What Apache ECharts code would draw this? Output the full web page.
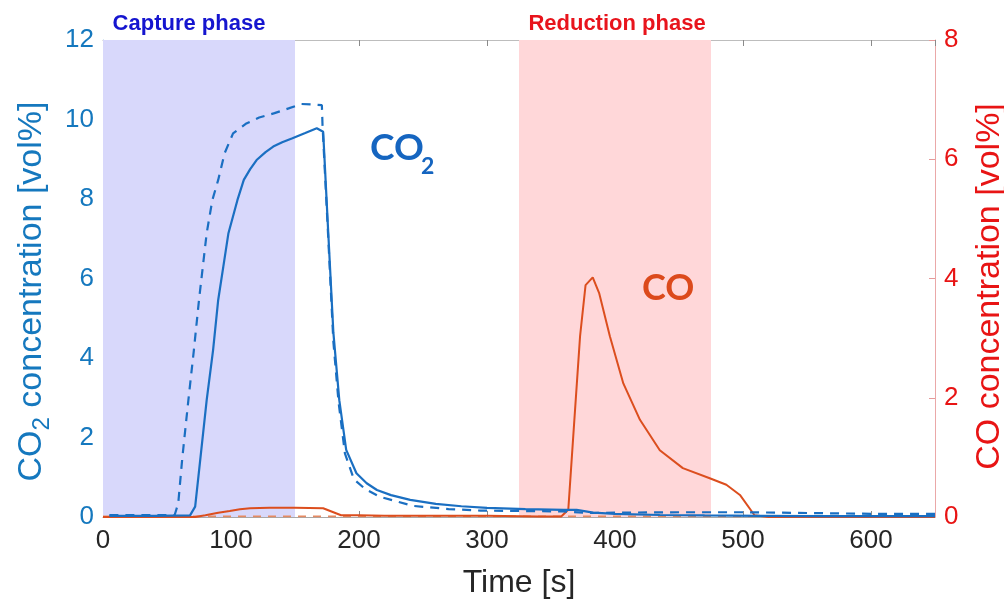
<!DOCTYPE html>
<html>
<head>
<meta charset="utf-8">
<script src="https://cdn.jsdelivr.net/npm/echarts@6/dist/echarts.min.js"></script>
<style>html,body{margin:0;padding:0;background:#fff}#c{width:1004px;height:600px}</style>
</head>
<body>
<div id="c"></div>
<script>
// ---- data (time in s, concentration in vol%) ----
var co2MeasT = [5, 40, 68, 72, 76, 81, 86, 90, 94, 98, 105, 110, 115, 120, 127, 133, 140, 148, 158, 167, 172, 176, 180, 184.6, 190, 198, 206, 214, 225, 240, 260, 280, 300, 330, 360, 370, 383, 400, 435, 470, 513, 560, 600, 650];
var co2MeasV = [0.03, 0.03, 0.04, 0.26, 1.45, 2.94, 4.2, 5.46, 6.3, 7.14, 7.97, 8.48, 8.75, 8.98, 9.18, 9.32, 9.43, 9.53, 9.66, 9.78, 9.69, 7.14, 4.63, 2.94, 1.69, 1.1, 0.85, 0.68, 0.55, 0.43, 0.33, 0.27, 0.23, 0.2, 0.18, 0.18, 0.11, 0.08, 0.05, 0.04, 0.03, 0.02, 0.02, 0.02];

var co2ModelT = [5, 56, 58.8, 62, 66.7, 71, 75, 78, 81, 85.4, 90, 95, 101.6, 112, 122, 134, 145, 155, 163, 171, 171.5, 176, 180, 184, 189, 196, 205, 216, 242, 270, 295, 330, 359, 380, 400, 450, 500, 550, 600, 650];
var co2ModelV = [0.05, 0.05, 0.35, 1.5, 2.94, 4.2, 5.46, 6.3, 7.14, 7.97, 8.48, 9.15, 9.65, 9.9, 10.05, 10.16, 10.28, 10.39, 10.38, 10.36, 9.86, 7.0, 4.4, 2.9, 1.6, 0.95, 0.7, 0.51, 0.28, 0.2, 0.16, 0.15, 0.14, 0.1, 0.11, 0.12, 0.12, 0.1, 0.08, 0.08];

var coMeasT = [0, 72, 80, 90, 99, 107, 115, 130, 150, 172, 180, 186, 200, 220, 250, 300, 340, 358, 363.5, 368, 372.7, 377, 382.6, 387.7, 396, 406.5, 419.5, 435, 453, 474, 487, 497.6, 509, 520, 650];
var coMeasV = [0, 0, 0.03, 0.07, 0.1, 0.13, 0.146, 0.156, 0.156, 0.146, 0.08, 0.03, 0.03, 0.02, 0.02, 0.02, 0.01, 0.01, 0.12, 1.55, 3.03, 3.89, 4.02, 3.75, 3.03, 2.24, 1.63, 1.12, 0.82, 0.65, 0.54, 0.37, 0.03, 0, 0];

var coModelT = [0, 650];
var coModelV = [0.01, 0.01];

var phases = [
  {name: 'Capture phase', from: 0, to: 150},
  {name: 'Reduction phase', from: 325, to: 475}
];

var xTicks = {min: 0, max: 650, interval: 100};
var yLeftTicks = {min: 0, max: 12, interval: 2};
var yRightTicks = {min: 0, max: 8, interval: 2};

function pairs(t, v) { return t.map(function (x, i) { return [x, v[i]]; }); }

var BLUE = '#1a6fc2';
var AX_BLUE = '#1578be';
var AX_RED = '#e81414';
var CO_RED = '#dc4e1e';
var FONT = 'Liberation Sans, Arial, sans-serif';

var chart = echarts.init(document.getElementById('c'));
chart.setOption({
  animation: false,
  backgroundColor: '#ffffff',
  grid: {left: 103, right: 69, top: 40, bottom: 83, containLabel: false, outerBoundsMode: 'none'},
  xAxis: [{
    type: 'value', min: xTicks.min, max: xTicks.max, interval: xTicks.interval, position: 'bottom',
    axisLine: {show: true, onZero: false, lineStyle: {color: '#a8a8a8', width: 1}},
    axisTick: {show: true, inside: true, length: 6, lineStyle: {color: '#8a8a8a'}},
    axisLabel: {fontSize: 26, color: '#262626', margin: 11, fontFamily: FONT, showMaxLabel: false},
    splitLine: {show: false},
    name: 'Time [s]', nameLocation: 'middle', nameGap: 50,
    nameTextStyle: {fontSize: 32, color: '#262626', fontFamily: FONT}
  }, {
    type: 'value', min: xTicks.min, max: xTicks.max, interval: xTicks.interval, position: 'top',
    axisLine: {show: true, onZero: false, lineStyle: {color: '#bdbdbd', width: 1}},
    axisTick: {show: true, inside: true, length: 6, lineStyle: {color: '#8a8a8a'}},
    axisLabel: {show: false}, splitLine: {show: false}
  }],
  yAxis: [{
    type: 'value', min: yLeftTicks.min, max: yLeftTicks.max, interval: yLeftTicks.interval, position: 'left',
    axisLine: {show: true, onZero: false, lineStyle: {color: '#9cc3e2', width: 1}},
    axisTick: {show: true, inside: true, length: 6, lineStyle: {color: '#8fb9dc'}},
    axisLabel: {fontSize: 26, color: AX_BLUE, margin: 9, fontFamily: FONT},
    splitLine: {show: false},
    name: '{a|CO}{s|2}{a| concentration [vol%]}', nameLocation: 'middle', nameGap: 46,
    nameTextStyle: {
      color: AX_BLUE, fontFamily: FONT, padding: [0, 26, 0, 0],
      rich: {
        a: {fontSize: 34, color: AX_BLUE, fontFamily: FONT},
        s: {fontSize: 24, color: AX_BLUE, fontFamily: FONT, padding: [22, 0, 0, 0]}
      }
    }
  }, {
    type: 'value', min: yRightTicks.min, max: yRightTicks.max, interval: yRightTicks.interval, position: 'right',
    axisLine: {show: true, onZero: false, lineStyle: {color: '#eaa8a8', width: 1}},
    axisTick: {show: true, inside: true, length: 6, lineStyle: {color: '#e59a9a'}},
    axisLabel: {fontSize: 26, color: AX_RED, margin: 9, fontFamily: FONT},
    splitLine: {show: false},
    name: 'CO concentration [vol%]', nameLocation: 'middle', nameGap: 38,
    nameTextStyle: {fontSize: 34, color: AX_RED, fontFamily: FONT, padding: [0, 16, 0, 0]}
  }],
  series: [{
    name: 'CO model', type: 'line', yAxisIndex: 1, z: 2,
    data: pairs(coModelT, coModelV), showSymbol: false,
    lineStyle: {color: '#e58a62', width: 1.6, type: [8, 7]},
    markArea: {
      silent: true,
      data: phases.map(function (p, i) {
        return [{
          xAxis: p.from, name: p.name,
          itemStyle: {color: i === 0 ? '#d8d8fb' : '#ffd7d9'},
          label: {
            show: true, position: 'top', distance: 5,
            offset: [i === 0 ? -10 : 2, 0],
            fontSize: 22, fontWeight: 'bold', fontFamily: FONT,
            color: i === 0 ? '#1515cf' : '#e8141c'
          }
        }, {xAxis: p.to}];
      })
    }
  }, {
    name: 'CO measured', type: 'line', yAxisIndex: 1, z: 3,
    data: pairs(coMeasT, coMeasV), showSymbol: false,
    lineStyle: {color: CO_RED, width: 2}
  }, {
    name: 'CO2 model', type: 'line', yAxisIndex: 0, z: 4,
    data: pairs(co2ModelT, co2ModelV), showSymbol: false,
    lineStyle: {color: BLUE, width: 2.2, type: [9, 7]}
  }, {
    name: 'CO2 measured', type: 'line', yAxisIndex: 0, z: 5,
    data: pairs(co2MeasT, co2MeasV), showSymbol: false,
    lineStyle: {color: BLUE, width: 2.2}
  }],
  graphic: [
    {type: 'text', left: 370, top: 130, z: 10,
     style: {text: 'CO', fontSize: 37, fontWeight: 'bold', fontFamily: 'Lato, Open Sans, sans-serif', fill: '#1565c0'}},
    {type: 'text', left: 421, top: 155, z: 10,
     style: {text: '2', fontSize: 23, fontWeight: 'bold', fontFamily: 'Lato, Open Sans, sans-serif', fill: '#1565c0'}},
    {type: 'text', left: 642, top: 270, z: 10,
     style: {text: 'CO', fontSize: 36, fontWeight: 'bold', fontFamily: 'Lato, Open Sans, sans-serif', fill: '#dc4a1c'}}
  ]
});
</script>
</body>
</html>
